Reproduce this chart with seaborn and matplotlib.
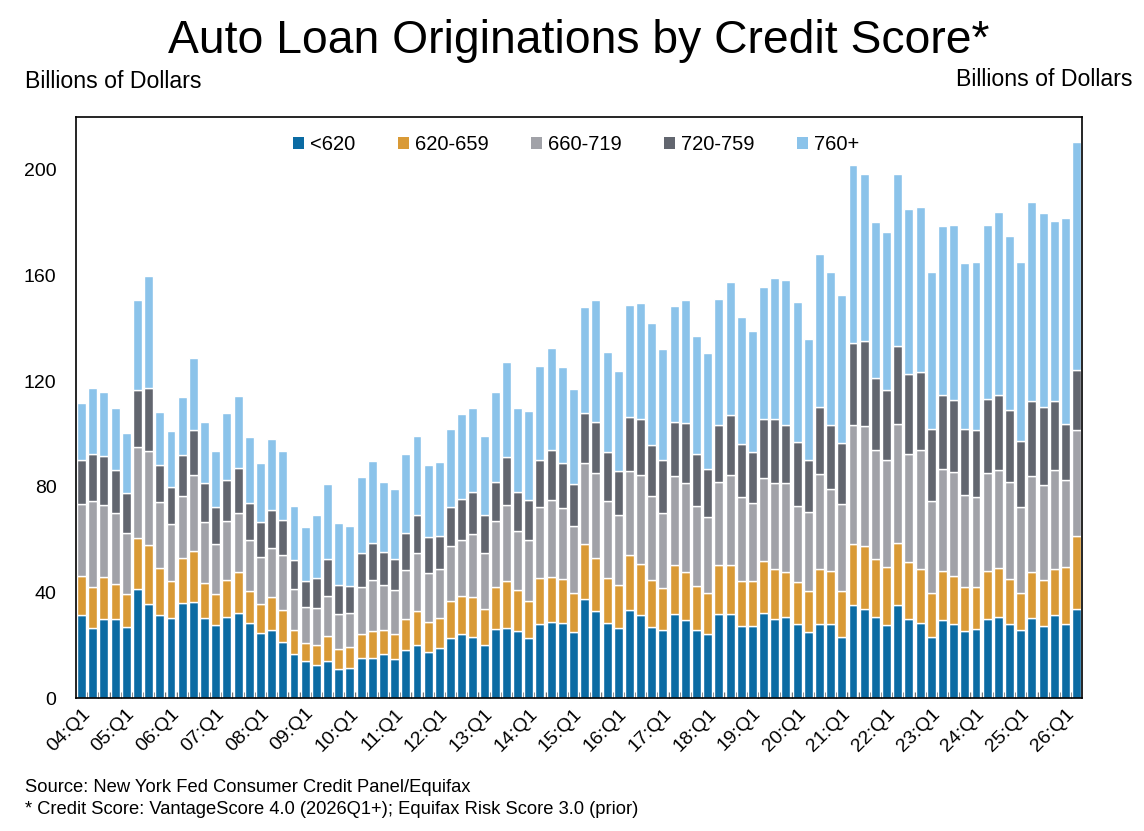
import numpy as np
import pandas as pd
import seaborn as sns
import matplotlib.pyplot as plt
from matplotlib.patches import Patch

sns.set_theme(style="white")
plt.rcParams['font.family'] = ['Liberation Sans', 'DejaVu Sans']
plt.rcParams['text.color'] = 'black'
plt.rcParams['xtick.color'] = 'black'
plt.rcParams['ytick.color'] = 'black'

# quarters 04:Q1 .. 26:Q2
quarters = ["{:02d}:Q{}".format(y, q) for y in range(4, 27) for q in range(1, 5)][:90]

bands = ['<620', '620-659', '660-719', '720-759', '760+']
colors = ['#0B6BA3', '#D99A36', '#A1A2A8', '#62666F', '#8BC3EA']

# billions of dollars
lt620 = [31.5, 26.6, 29.8, 29.8, 27.0, 41.2, 35.5, 31.3, 30.4, 36.1,
         36.4, 30.4, 27.6, 30.7, 32.2, 28.4, 24.7, 25.6, 21.3, 16.6,
         13.9, 12.4, 14.2, 11.1, 11.5, 15.2, 15.2, 16.6, 14.6, 18.2,
         20.2, 17.5, 18.9, 22.7, 24.1, 23.3, 20.2, 26.0, 26.6, 25.3,
         22.7, 28.0, 28.8, 28.4, 25.2, 37.5, 33.1, 28.4, 26.6, 33.4,
         31.3, 27.0, 25.6, 32.0, 29.4, 25.6, 24.1, 31.7, 32.0, 27.4,
         27.4, 32.2, 29.8, 30.8, 28.1, 25.1, 28.1, 28.0, 23.2, 35.1,
         33.7, 30.8, 27.6, 35.1, 30.1, 28.4, 23.2, 29.5, 28.0, 25.3,
         26.1, 29.8, 30.8, 28.0, 25.6, 30.3, 27.4, 31.3, 28.0, 33.8]
s620_659 = [14.9, 15.6, 15.9, 13.5, 12.3, 19.6, 22.5, 18.1, 13.9, 16.9,
            19.4, 13.2, 11.7, 13.9, 15.4, 12.1, 10.8, 12.8, 12.1, 9.0,
            7.1, 7.5, 9.2, 7.4, 7.8, 8.9, 10.1, 9.0, 9.5, 11.6,
            12.8, 11.2, 11.4, 13.9, 14.5, 15.1, 13.6, 15.9, 17.7, 15.5,
            14.2, 17.5, 17.1, 16.8, 14.6, 20.7, 19.9, 17.2, 16.3, 20.9,
            19.6, 17.7, 15.9, 18.4, 18.2, 17.0, 15.7, 18.7, 18.4, 17.1,
            17.1, 19.6, 19.2, 16.8, 15.7, 15.4, 20.6, 20.3, 17.3, 23.1,
            23.8, 22.0, 22.1, 23.6, 21.5, 20.6, 16.6, 18.5, 18.4, 16.9,
            15.8, 18.5, 18.6, 17.2, 14.2, 17.6, 17.3, 17.7, 21.7, 27.7]
s660_719 = [27.0, 32.4, 27.5, 26.6, 23.2, 34.2, 35.5, 24.7, 21.5, 23.4,
            28.7, 22.9, 19.2, 22.4, 22.6, 19.2, 17.8, 18.4, 20.6, 15.6,
            13.4, 14.2, 15.2, 13.5, 12.9, 17.8, 19.4, 17.3, 16.7, 18.8,
            22.1, 18.7, 18.4, 21.1, 21.3, 23.7, 21.3, 25.1, 28.9, 22.4,
            23.0, 26.9, 29.1, 26.8, 25.5, 31.0, 32.1, 29.0, 26.4, 31.6,
            33.6, 32.0, 28.4, 33.7, 33.8, 30.1, 28.7, 31.6, 34.0, 31.5,
            29.4, 31.7, 32.4, 33.7, 28.9, 29.8, 36.2, 30.8, 32.9, 45.2,
            45.5, 41.0, 40.5, 45.0, 40.7, 44.8, 34.8, 38.6, 39.1, 34.8,
            34.1, 36.9, 37.0, 36.5, 32.6, 36.2, 36.0, 37.4, 33.0, 39.9]
s720_759 = [16.8, 18.0, 18.4, 16.3, 15.2, 21.8, 24.1, 14.0, 14.0, 15.8,
            17.1, 14.9, 13.8, 15.4, 16.9, 14.0, 13.5, 14.6, 13.6, 11.1,
            9.9, 11.4, 14.0, 11.0, 10.1, 13.1, 14.0, 12.5, 11.8, 13.8,
            14.4, 13.7, 12.8, 14.7, 15.4, 15.9, 14.1, 15.0, 18.0, 14.9,
            15.0, 17.8, 19.0, 17.2, 15.7, 18.6, 19.4, 18.4, 16.8, 20.4,
            21.0, 19.2, 20.3, 20.3, 22.9, 19.9, 18.3, 21.4, 22.8, 20.3,
            19.1, 22.3, 24.3, 22.1, 24.3, 19.9, 25.5, 24.2, 23.2, 31.1,
            32.2, 27.6, 26.6, 29.5, 30.6, 29.8, 27.4, 28.2, 27.4, 25.0,
            25.6, 28.2, 28.4, 27.4, 24.9, 28.4, 29.4, 26.1, 21.0, 22.9]
s760 = [21.7, 24.9, 24.2, 23.5, 22.7, 33.8, 42.1, 20.4, 21.3, 22.0,
        27.2, 23.0, 21.2, 25.6, 27.2, 25.0, 22.3, 26.6, 25.9, 20.4,
        20.6, 23.8, 28.4, 23.3, 22.8, 28.8, 31.1, 26.4, 26.5, 29.9,
        29.8, 27.0, 27.8, 29.6, 32.2, 31.8, 29.9, 33.8, 36.2, 31.8,
        33.8, 35.5, 38.5, 36.2, 35.9, 40.4, 46.1, 38.1, 37.6, 42.4,
        44.1, 46.0, 41.9, 43.9, 46.3, 44.5, 43.9, 47.6, 50.2, 47.9,
        45.9, 49.7, 53.2, 55.0, 53.1, 45.6, 57.8, 58.2, 56.1, 67.2,
        63.4, 59.0, 59.6, 65.4, 62.2, 62.3, 59.5, 64.0, 66.4, 62.8,
        63.7, 65.7, 69.1, 65.9, 68.0, 75.3, 73.7, 68.3, 78.1, 86.2]

df = pd.DataFrame({'quarter': quarters, '<620': lt620, '620-659': s620_659,
                   '660-719': s660_719, '720-759': s720_759, '760+': s760})

fig, ax = plt.subplots(figsize=(11.44, 8.31), dpi=100)
fig.subplots_adjust(left=0.0664, right=0.946, top=0.859, bottom=0.16)

bottom = np.zeros(len(df))
for band, col in zip(bands, colors):
    sns.barplot(data=df, x='quarter', y=band, color=col, saturation=1,
                width=0.8, bottom=bottom, errorbar=None, ax=ax)
    bottom = bottom + df[band].to_numpy()

ax.set_xlabel('')
ax.set_ylabel('')
ax.set_ylim(0, 220)
ax.set_xlim(-0.5, len(df) - 0.5)
ax.set_yticks(range(0, 201, 40))
ax.tick_params(axis='y', direction='in', length=5, pad=14, labelsize=14, color='black')

ticks = list(range(0, len(df), 4))
ax.set_xticks(ticks)
ax.set_xticklabels([quarters[i] for i in ticks], rotation=45, ha='right',
                   rotation_mode='anchor', fontsize=14)
ax.tick_params(axis='x', which='major', length=0, pad=5)
ax.set_xticks(np.arange(0.5, len(df) - 1, 1), minor=True)
ax.tick_params(axis='x', which='minor', direction='in', length=4, color='#555555', bottom=True)

for s in ax.spines.values():
    s.set_visible(True)
    s.set_color('black')
    s.set_linewidth(1.2)

handles = [Patch(facecolor=c, edgecolor='none') for c in colors]
ax.legend(handles, bands, loc='upper center', bbox_to_anchor=(0.497, 1.0), ncol=5,
          frameon=False, fontsize=14.5, handlelength=0.55, handleheight=0.55,
          handletextpad=0.3, columnspacing=2.1)

fig.text(0.506, 0.951, 'Auto Loan Originations by Credit Score*', ha='center', va='center', fontsize=33.3)
fig.text(25 / 1144, 1 - 82 / 831, 'Billions of Dollars', ha='left', va='center', fontsize=16.7)
fig.text(1132 / 1144, 1 - 80 / 831, 'Billions of Dollars', ha='right', va='center', fontsize=16.7)
fig.text(25 / 1144, 1 - 788 / 831, 'Source: New York Fed Consumer Credit Panel/Equifax',
         ha='left', va='center', fontsize=13.2)
fig.text(25 / 1144, 1 - 810 / 831, '* Credit Score: VantageScore 4.0 (2026Q1+); Equifax Risk Score 3.0 (prior)',
         ha='left', va='center', fontsize=13.2)

fig.savefig('out.png', dpi=100)
